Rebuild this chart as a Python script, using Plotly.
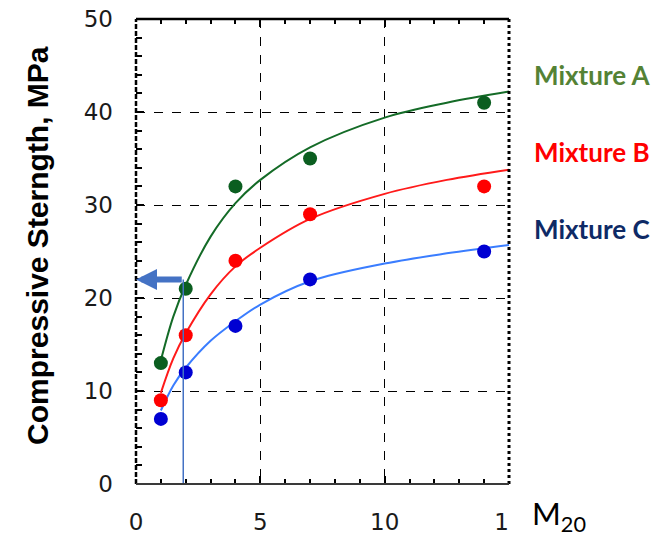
import plotly.graph_objects as go

# ---- data ----
ratio_x = [1, 2, 4, 7, 14]
mix_a = [13, 21, 32, 35, 41]
mix_b = [9, 16, 24, 29, 32]
mix_c = [7, 12, 17, 22, 25]

fit_x = [1, 1.5, 2, 3, 4, 5, 7, 10, 12.5, 15]
fit_a = [13.3, 18.0, 21.4, 26.6, 30.2, 32.7, 36.2, 39.4, 41.0, 42.2]
fit_b = [9.8, 13.5, 16.2, 20.4, 23.4, 25.4, 28.5, 31.2, 32.7, 33.8]
fit_c = [7.9, 10.6, 12.5, 15.4, 17.5, 19.3, 21.8, 23.7, 24.8, 25.7]

names = ["Mixture A", "Mixture B", "Mixture C"]
x_ticks = [0, 5, 10, 15]
x_ticktext = ["0", "5", "10", "1\u2007"]
y_ticks = [0, 10, 20, 30, 40, 50]

cut_x = 1.9     # vertical guide position
cut_y = 22      # arrow level

fig = go.Figure()

line_cols = ["#146b27", "#ff1a1a", "#3a7dff"]
dot_cols = ["#0b5e20", "#ff0000", "#0000d2"]
label_cols = ["#548235", "#ff0000", "#0e2a66"]

for fy, col in zip([fit_a, fit_b, fit_c], line_cols):
    fig.add_trace(go.Scatter(x=fit_x, y=fy, mode="lines",
                             line=dict(color=col, width=2, shape="spline"),
                             hoverinfo="skip"))
for ys, col, nm in zip([mix_a, mix_b, mix_c], dot_cols, names):
    fig.add_trace(go.Scatter(x=ratio_x, y=ys, mode="markers", name=nm,
                             marker=dict(color=col, size=14, line=dict(width=0))))

fig.add_shape(type="line", x0=cut_x, x1=cut_x, y0=0, y1=cut_y,
              line=dict(color="#4472c4", width=1.5), layer="above")

fig.add_annotation(x=0, y=cut_y, ax=cut_x, ay=cut_y, axref="x", ayref="y",
                   xref="x", yref="y", text="", showarrow=True,
                   arrowhead=2, arrowsize=0.7, arrowwidth=6,
                   arrowcolor="#4472c4", standoff=0, startstandoff=0)

# frame
fig.add_shape(type="line", xref="paper", yref="paper", x0=0, x1=1, y0=1, y1=1,
              line=dict(color="black", width=2.5))
fig.add_shape(type="line", xref="paper", yref="paper", x0=0, x1=0, y0=0, y1=1,
              line=dict(color="black", width=2.5, dash="5px,2px"))
fig.add_shape(type="line", xref="paper", yref="paper", x0=1, x1=1, y0=0, y1=1,
              line=dict(color="black", width=3, dash="3px,3px"))
fig.add_shape(type="line", xref="paper", yref="paper", x0=0, x1=1, y0=0, y1=0,
              line=dict(color="#3a3a3a", width=2))

# labels
label_y = [0.8796, 0.714, 0.548]
for nm, col, yy in zip(names, label_cols, label_y):
    fig.add_annotation(text="<b>" + nm + "</b>", xref="paper", yref="paper",
                       x=1.062, y=yy, xanchor="left", yanchor="middle",
                       showarrow=False, font=dict(family="Lato", size=26, color=col))

fig.add_annotation(text="M<sub>20</sub>", xref="paper", yref="paper",
                   x=1.056, y=-0.068, xanchor="left", yanchor="middle",
                   showarrow=False, font=dict(family="Lato", size=31, color="black"))

fig.add_annotation(text="<b>Compressive Sterngth, MPa</b>", xref="paper", yref="paper",
                   x=-0.263, y=0.514, xanchor="center", yanchor="middle",
                   textangle=-90, showarrow=False,
                   font=dict(family="Liberation Sans", size=30, color="black"))

# page body has an 8px margin, so the figure is 8px smaller and shifted
fig.update_layout(
    width=660, height=532,
    margin=dict(l=128, r=159, t=11, b=56, autoexpand=False),
    paper_bgcolor="white", plot_bgcolor="white",
    showlegend=False,
    xaxis=dict(range=[0, 15], tickvals=x_ticks, ticktext=x_ticktext,
               ticks="inside", ticklen=8, tickwidth=2, tickcolor="black",
               minor=dict(dtick=1, ticks="inside", ticklen=5, tickwidth=1.5,
                          tickcolor="black", showgrid=False),
               showgrid=True, gridcolor="black", griddash="dash", gridwidth=1,
               zeroline=False, showline=False, mirror="ticks", automargin=False,
               tickfont=dict(family="DejaVu Sans", size=23, color="#1a1a1a"),
               ticklabelstandoff=22, ticklabeloverflow="allow"),
    yaxis=dict(range=[0, 50], tickvals=y_ticks,
               ticks="inside", ticklen=8, tickwidth=2, tickcolor="black",
               minor=dict(dtick=2, ticks="inside", ticklen=6, tickwidth=1.5,
                          tickcolor="black", showgrid=False),
               showgrid=True, gridcolor="black", griddash="dash", gridwidth=1,
               zeroline=False, showline=False, automargin=False,
               tickfont=dict(family="DejaVu Sans", size=23, color="#1a1a1a"),
               ticklabelstandoff=22, ticklabeloverflow="allow"),
)

fig.write_html("out.html")
